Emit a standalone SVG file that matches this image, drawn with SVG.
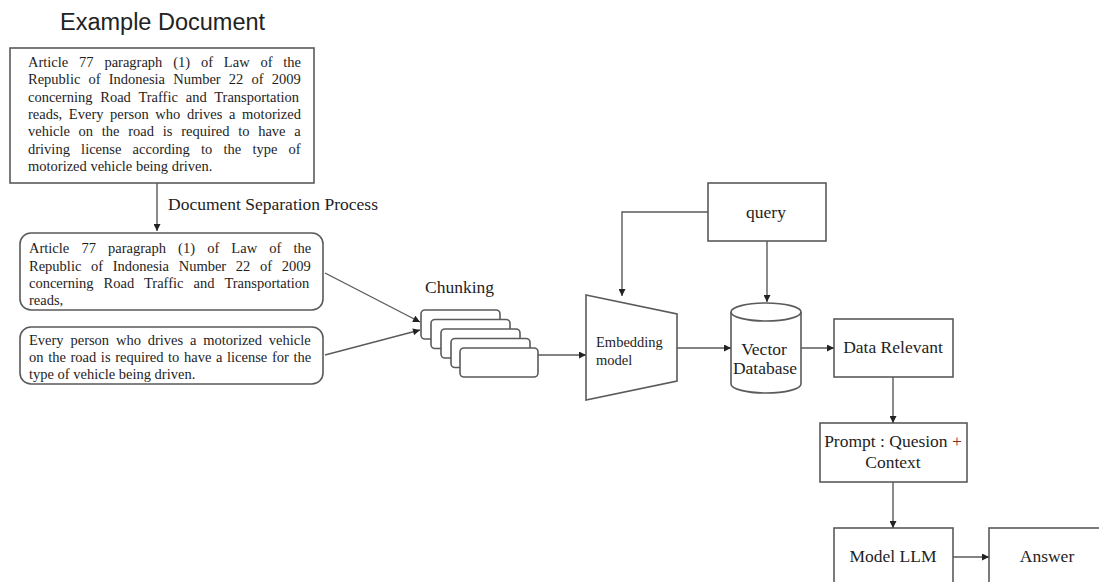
<svg xmlns="http://www.w3.org/2000/svg" width="1099" height="582" viewBox="0 0 1099 582">
<style>
.box{fill:#fff;stroke:#5a5a5a;stroke-width:1.6}
.ln{fill:none;stroke:#5a5a5a;stroke-width:1.4}
.t{font-family:"Liberation Serif","Times New Roman",serif;fill:#1e1e1e}
.body{font-size:14.5px}
.lbl{font-size:17.5px;text-anchor:middle}
</style>
<defs>
<marker id="ah" viewBox="0 0 10 10" refX="10" refY="5" markerWidth="8" markerHeight="7" markerUnits="userSpaceOnUse" orient="auto">
<path d="M0,0 L10,5 L0,10 z" fill="#222"/>
</marker>
</defs>
<rect width="1099" height="582" fill="#fff"/>
<text x="60" y="30" font-family="Liberation Sans, Arial, sans-serif" font-size="23.5" fill="#222">Example Document</text>

<g id="doc">
<rect class="box" x="10" y="48" width="304" height="135"/>
<g class="t body">
<text x="28" y="67" word-spacing="7.2">Article 77 paragraph (1) of Law of the</text>
<text x="28" y="84.3" word-spacing="4.5">Republic of Indonesia Number 22 of 2009</text>
<text x="28" y="101.7" word-spacing="4.2">concerning Road Traffic and Transportation</text>
<text x="28" y="119" word-spacing="3">reads, Every person who drives a motorized</text>
<text x="28" y="136.3" word-spacing="5.1">vehicle on the road is required to have a</text>
<text x="28" y="153.7" word-spacing="7.6">driving license according to the type of</text>
<text x="28" y="171">motorized vehicle being driven.</text>
</g>
</g>

<text class="t" x="168" y="210" font-size="17.5">Document Separation Process</text>

<g id="part1">
<rect class="box" x="20" y="233" width="303" height="77" rx="11"/>
<g class="t body">
<text x="29" y="253" word-spacing="8.5">Article 77 paragraph (1) of Law of the</text>
<text x="29" y="270.5" word-spacing="6">Republic of Indonesia Number 22 of 2009</text>
<text x="29" y="288" word-spacing="6.5">concerning Road Traffic and Transportation</text>
<text x="29" y="305">reads,</text>
</g>
</g>

<g id="part2">
<rect class="box" x="20" y="327" width="303" height="57" rx="11"/>
<g class="t body">
<text x="29" y="345" word-spacing="3.2">Every person who drives a motorized vehicle</text>
<text x="29" y="361.7" word-spacing="1">on the road is required to have a license for the</text>
<text x="29" y="378.5">type of vehicle being driven.</text>
</g>
</g>

<g id="chunking">
<text class="t" x="425" y="293" font-size="17.5">Chunking</text>
<rect class="box" x="421" y="310" width="79" height="29" rx="4"/>
<rect class="box" x="431" y="319.5" width="79" height="29" rx="4"/>
<rect class="box" x="441" y="329" width="79" height="29" rx="4"/>
<rect class="box" x="451" y="338.5" width="79" height="29" rx="4"/>
<rect class="box" x="460" y="348" width="78" height="29" rx="4"/>
</g>

<g id="embedding">
<polygon class="box" points="586,295 677,314 677,381 586,400"/>
<text class="t" x="596" y="347" font-size="14.5">Embedding</text>
<text class="t" x="596" y="365" font-size="14.5">model</text>
</g>

<g id="query">
<rect class="box" x="708" y="183" width="118" height="58"/>
<text class="t lbl" x="766" y="218" font-size="18">query</text>
</g>

<g id="vectordb">
<path class="box" d="M731,312 L731,384 A35,9 0 0 0 801,384 L801,312 A35,9 0 0 0 731,312 Z"/>
<path class="ln" d="M731,312 A35,9 0 0 0 801,312" style="stroke-width:1.6"/>
<text class="t lbl" x="764" y="355" font-size="16.5">Vector</text>
<text class="t lbl" x="765" y="374" font-size="15">Database</text>
</g>

<g id="relevant">
<rect class="box" x="834" y="319" width="119" height="58"/>
<text class="t lbl" x="893" y="353">Data Relevant</text>
</g>

<g id="prompt">
<rect class="box" x="820" y="423" width="147" height="59"/>
<text class="t lbl" x="893" y="447">Prompt : Quesion <tspan fill="#8a2a2a">+</tspan></text>
<text class="t lbl" x="893" y="468">Context</text>
</g>

<g id="llm">
<rect class="box" x="834" y="528" width="119" height="70"/>
<text class="t lbl" x="893" y="562">Model LLM</text>
</g>

<g id="answer">
<rect class="box" x="989" y="528" width="130" height="70"/>
<text class="t lbl" x="1047" y="562">Answer</text>
</g>

<g id="connectors">
<line class="ln" x1="157" y1="183" x2="157" y2="231" marker-end="url(#ah)"/>
<line class="ln" x1="325" y1="273" x2="420" y2="322" marker-end="url(#ah)"/>
<line class="ln" x1="325" y1="355" x2="420" y2="330" marker-end="url(#ah)"/>
<line class="ln" x1="538" y1="355" x2="586" y2="355" marker-end="url(#ah)"/>
<polyline class="ln" points="708,212 622,212 622,296" marker-end="url(#ah)"/>
<line class="ln" x1="767" y1="241" x2="767" y2="302" marker-end="url(#ah)"/>
<line class="ln" x1="677" y1="348" x2="731" y2="348" marker-end="url(#ah)"/>
<line class="ln" x1="801" y1="348" x2="834" y2="348" marker-end="url(#ah)"/>
<line class="ln" x1="893" y1="377" x2="893" y2="423" marker-end="url(#ah)"/>
<line class="ln" x1="893" y1="482" x2="893" y2="528" marker-end="url(#ah)"/>
<line class="ln" x1="953" y1="557" x2="989" y2="557" marker-end="url(#ah)"/>
</g>
</svg>
